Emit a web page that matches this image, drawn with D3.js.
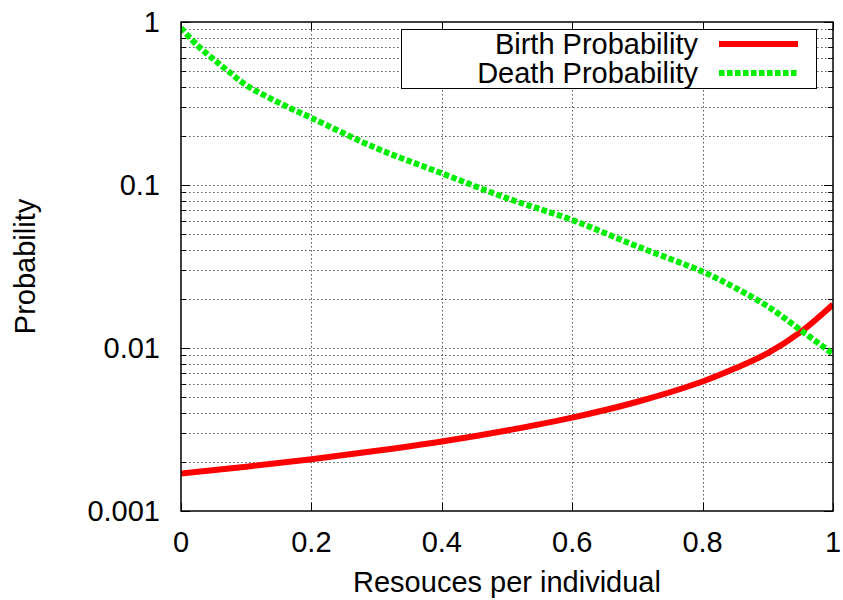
<!DOCTYPE html>
<html>
<head>
<meta charset="utf-8">
<script src="https://cdn.jsdelivr.net/npm/d3@7"></script>
<style>
  body { margin: 0; background: #fff; }
  text { font-family: "Liberation Sans", Arial, sans-serif; fill: #000; }
</style>
</head>
<body>
<div id="chart"></div>
<script>
// values (log y axis)
var birthX = [0, 0.1, 0.2, 0.3, 0.4, 0.5, 0.6, 0.7, 0.8, 0.85, 0.9, 0.95, 1.0];
var birthY = [0.0017, 0.00187, 0.00208, 0.00234, 0.00267, 0.00312, 0.00374, 0.00468, 0.00623, 0.0075, 0.0093, 0.0125, 0.0185];

var deathX = [0, 0.025, 0.05, 0.075, 0.1, 0.15, 0.2, 0.3, 0.4, 0.5, 0.6, 0.7, 0.8, 0.85, 0.9, 0.95, 1.0];
var deathY = [0.92, 0.72, 0.59, 0.49, 0.41, 0.32, 0.258, 0.168, 0.118, 0.083, 0.061, 0.042, 0.0294, 0.0234, 0.018, 0.0129, 0.0092];

var xTicks = [0, 0.2, 0.4, 0.6, 0.8, 1];
var yTicks = [1, 0.1, 0.01, 0.001];
var yTickLabels = ["1", "0.1", "0.01", "0.001"];

var WIDTH = 843, HEIGHT = 600;
var margin = { left: 181, right: 10, top: 22, bottom: 89 };
var width = WIDTH - margin.left - margin.right;
var height = HEIGHT - margin.top - margin.bottom;
var FONT = "29px";

var svg = d3.select("#chart").append("svg")
    .attr("width", WIDTH)
    .attr("height", HEIGHT);
svg.append("rect").attr("width", WIDTH).attr("height", HEIGHT).attr("fill", "#fff");

var g = svg.append("g")
    .attr("transform", "translate(" + margin.left + "," + margin.top + ")");

var xScale = d3.scaleLinear().domain([0, 1]).range([0, width]);
var yScale = d3.scaleLog().domain([0.001, 1]).range([height, 0]);

// minor values 2..9 in each decade
var minor = [];
[0.001, 0.01, 0.1].forEach(function(base) {
    for (var m = 2; m <= 9; m++) minor.push(base * m);
});

// grid
var grid = g.append("g").attr("class", "grid")
    .attr("stroke", "#555").attr("stroke-width", 1).attr("stroke-dasharray", "1.5,2.5");
grid.selectAll(".gy").data(minor.concat([0.1, 0.01])).enter().append("line")
    .attr("x1", 0).attr("x2", width)
    .attr("y1", function(d) { return Math.round(yScale(d)) + 0.5; })
    .attr("y2", function(d) { return Math.round(yScale(d)) + 0.5; });
grid.selectAll(".gx").data(xTicks.slice(1, -1)).enter().append("line")
    .attr("y1", 0).attr("y2", height)
    .attr("x1", function(d) { return Math.round(xScale(d)) + 0.5; })
    .attr("x2", function(d) { return Math.round(xScale(d)) + 0.5; });

// ticks (inward, all four sides)
var ticks = g.append("g").attr("stroke", "#000").attr("stroke-width", 1);
yTicks.forEach(function(d) {
    var y = Math.round(yScale(d)) + 0.5;
    ticks.append("line").attr("x1", 0).attr("x2", 9).attr("y1", y).attr("y2", y);
    ticks.append("line").attr("x1", width - 9).attr("x2", width).attr("y1", y).attr("y2", y);
});
minor.forEach(function(d) {
    var y = Math.round(yScale(d)) + 0.5;
    ticks.append("line").attr("x1", 0).attr("x2", 5).attr("y1", y).attr("y2", y);
    ticks.append("line").attr("x1", width - 5).attr("x2", width).attr("y1", y).attr("y2", y);
});
xTicks.forEach(function(d) {
    var x = Math.round(xScale(d)) + 0.5;
    ticks.append("line").attr("x1", x).attr("x2", x).attr("y1", height).attr("y2", height - 8);
    ticks.append("line").attr("x1", x).attr("x2", x).attr("y1", 0).attr("y2", 8);
});

// tick labels
g.selectAll(".xl").data(xTicks).enter().append("text")
    .attr("x", function(d) { return xScale(d); })
    .attr("y", height + 41)
    .attr("text-anchor", "middle")
    .style("font-size", FONT)
    .text(function(d) { return d3.format("")(d); });
g.selectAll(".yl").data(yTicks).enter().append("text")
    .attr("x", -21)
    .attr("y", function(d) { return yScale(d); })
    .attr("dy", "0.36em")
    .attr("text-anchor", "end")
    .style("font-size", FONT)
    .text(function(d, i) { return yTickLabels[i]; });

// axis titles
svg.append("text")
    .attr("x", margin.left + width / 2)
    .attr("y", 592)
    .attr("text-anchor", "middle")
    .style("font-size", FONT)
    .text("Resouces per individual");
svg.append("text")
    .attr("transform", "translate(35," + (margin.top + height / 2) + ") rotate(-90)")
    .attr("text-anchor", "middle")
    .style("font-size", FONT)
    .text("Probability");

// curves
var line = d3.line()
    .x(function(d) { return xScale(d[0]); })
    .y(function(d) { return yScale(d[1]); })
    .curve(d3.curveCatmullRom.alpha(0.5));

g.append("clipPath").attr("id", "clip")
    .append("rect").attr("width", width).attr("height", height);

var curves = g.append("g").attr("clip-path", "url(#clip)");
curves.append("path")
    .datum(d3.zip(birthX, birthY))
    .attr("d", line)
    .attr("fill", "none")
    .attr("stroke", "#ff0000")
    .attr("stroke-width", 6);
curves.append("path")
    .datum(d3.zip(deathX, deathY))
    .attr("d", line)
    .attr("fill", "none")
    .attr("stroke", "#00ee00")
    .attr("stroke-width", 6)
    .attr("stroke-dasharray", "5.5,2.5");

// frame
g.append("rect")
    .attr("width", width).attr("height", height)
    .attr("fill", "none").attr("stroke", "#000").attr("stroke-width", 1.5);

// legend
var legend = svg.append("g").attr("class", "legend");
legend.append("rect")
    .attr("x", 401.5).attr("y", 29.5)
    .attr("width", 415).attr("height", 59)
    .attr("fill", "#fff").attr("stroke", "#000").attr("stroke-width", 1);
var legendItems = [
    { name: "Birth Probability", color: "#ff0000", dash: null },
    { name: "Death Probability", color: "#00ee00", dash: "5.5,2.5" }
];
legendItems.forEach(function(d, i) {
    var y = 44 + i * 29;
    legend.append("text")
        .attr("x", 698).attr("y", y)
        .attr("dy", "0.36em")
        .attr("text-anchor", "end")
        .style("font-size", FONT)
        .text(d.name);
    legend.append("line")
        .attr("x1", 719).attr("x2", 798)
        .attr("y1", y).attr("y2", y)
        .attr("stroke", d.color)
        .attr("stroke-width", 6)
        .attr("stroke-dasharray", d.dash);
});
</script>
</body>
</html>
